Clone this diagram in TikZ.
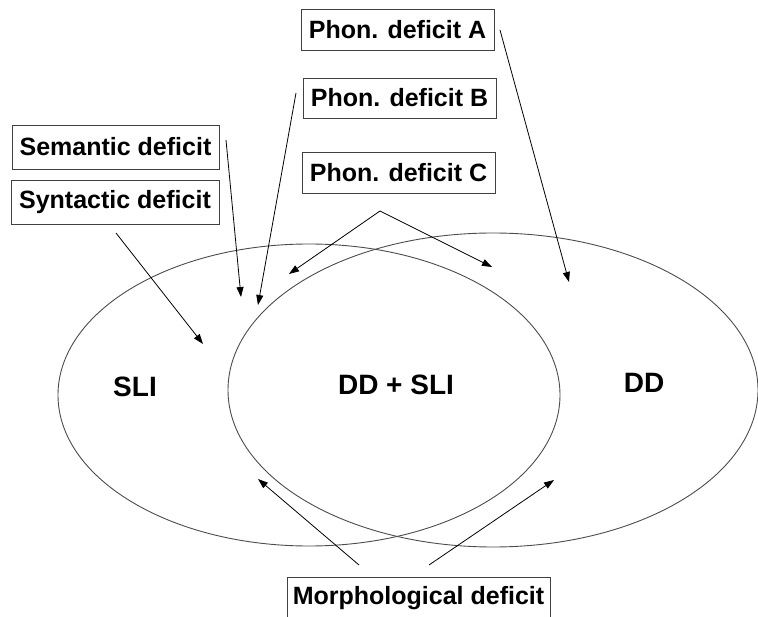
\documentclass[tikz,border=0pt]{standalone}
\usepackage{fontspec}
\setmainfont{Liberation Sans}
\usetikzlibrary{arrows.meta}
\begin{document}
\begin{tikzpicture}[x=1pt,y=-1pt,
  labelbox/.style={draw=black!75, line width=0.8pt, rectangle, inner sep=0pt,
    font=\fontsize{25}{29}\selectfont\bfseries, text=black},
  setlabel/.style={font=\fontsize{28}{32}\selectfont\bfseries, text=black},
  setline/.style={draw=black!70, line width=0.9pt},
  pointer/.style={draw=black, line width=0.8pt, -{Triangle[length=10pt,width=7pt]}}]
  \useasboundingbox (0,0) rectangle (758,617);

  % the two overlapping groups
  \draw[setline] (309,395) ellipse [x radius=251, y radius=151];
  \draw[setline] (493,390) ellipse [x radius=265, y radius=157];

  \node[setlabel] (sli) at (135,387) {SLI};
  \node[setlabel] (both) at (396,385) {DD + SLI};
  \node[setlabel] (dd) at (644,383) {DD};

  % deficit boxes
  \node[labelbox, minimum width=193pt, minimum height=41pt] (phonA) at (397.5,29.5) {Phon. deficit A};
  \node[labelbox, minimum width=193pt, minimum height=40pt] (phonB) at (399.5,98) {Phon. deficit B};
  \node[labelbox, minimum width=193pt, minimum height=41pt] (phonC) at (398.5,172.5) {Phon. deficit C};
  \node[labelbox, minimum width=207pt, minimum height=44pt] (sem) at (115.5,147) {Semantic deficit};
  \node[labelbox, minimum width=208pt, minimum height=44pt] (syn) at (115,202) {Syntactic deficit};
  \node[labelbox, minimum width=263pt, minimum height=42pt] (morph) at (418.5,598) {Morphological deficit};

  % arrow start and end points
  \coordinate (aS) at (500,30);   \coordinate (aE) at (569,282);
  \coordinate (bS) at (296,93);   \coordinate (bE) at (258,305);
  \coordinate (sS) at (226,140);  \coordinate (sE) at (241,297);
  \coordinate (yS) at (116,233);  \coordinate (yE) at (203,344);
  \coordinate (cS) at (380,211);
  \coordinate (cL) at (289,274);  \coordinate (cR) at (492,267);
  \coordinate (mL) at (359,565);  \coordinate (mR) at (429,565);
  \coordinate (mLE) at (258,479); \coordinate (mRE) at (554,480);

  \draw[pointer] (aS) -- (aE);
  \draw[pointer] (bS) -- (bE);
  \draw[pointer] (sS) -- (sE);
  \draw[pointer] (yS) -- (yE);
  \draw[pointer] (cS) -- (cL);
  \draw[pointer] (cS) -- (cR);
  \draw[pointer] (mL) -- (mLE);
  \draw[pointer] (mR) -- (mRE);
\end{tikzpicture}
\end{document}
